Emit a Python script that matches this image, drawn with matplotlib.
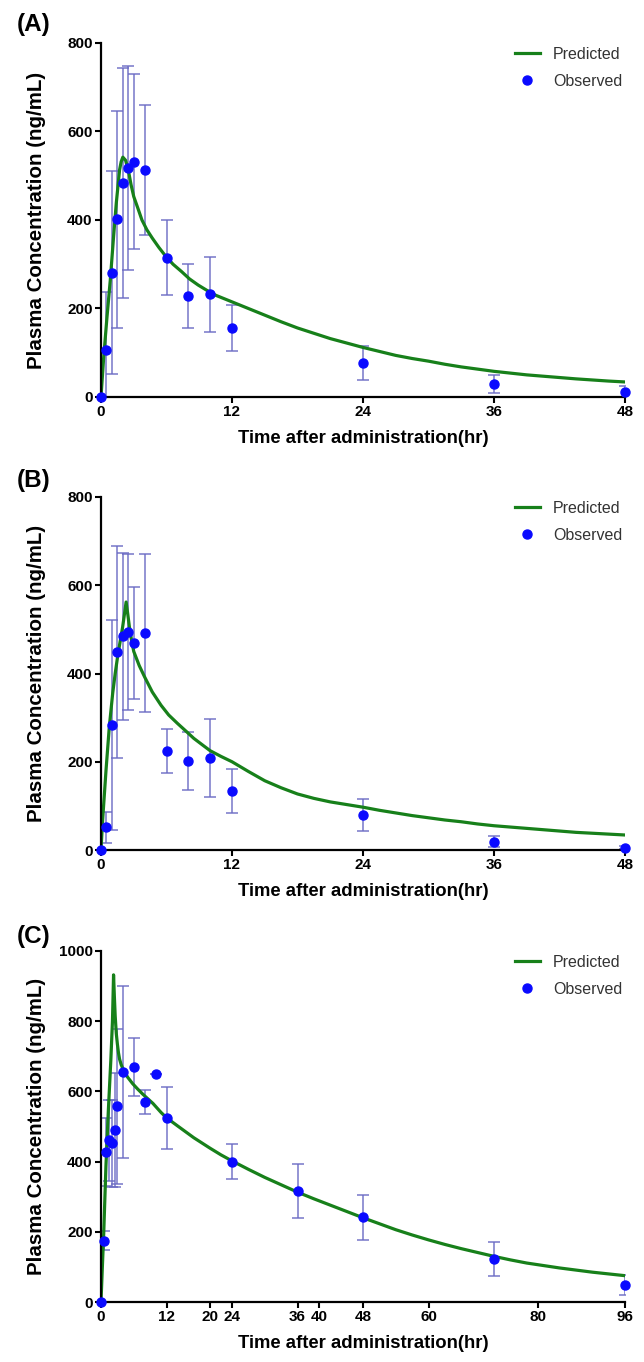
import numpy as np
import matplotlib
matplotlib.use('Agg')
import matplotlib.pyplot as plt
from matplotlib.lines import Line2D

plt.rcParams['font.family'] = ['Liberation Sans', 'DejaVu Sans']

# panel A
a_obs_t = [0, 0.5, 1, 1.5, 2, 2.5, 3, 4, 6, 8, 10, 12, 24, 36, 48]
a_obs_c = [0, 107, 281, 402, 483, 518, 532, 512, 315, 229, 232, 157, 77, 29, 12]
a_obs_sd = [0, 130, 230, 245, 260, 230, 198, 147, 84, 72, 84, 52, 39, 20, 12]
a_pred_t = [0, 0.25, 0.55, 0.85, 1.15, 1.4, 1.7, 1.85, 2.0, 2.25, 2.5, 2.75, 3.0, 3.4, 3.75,
            4.2, 4.7, 5.3, 5.9, 6.6, 7.4, 8.1, 8.9, 9.7, 10.5, 11.3, 12, 13.5, 15, 16.5,
            18, 19.5, 21, 22.5, 24, 25.5, 27, 28.5, 30, 31.5, 33, 34.5, 36, 37.5, 39,
            40.5, 42, 43.5, 45, 46.5, 48]
a_pred_c = [0, 91, 181, 264, 362, 438, 513, 532, 542, 535, 513, 480, 453, 425, 400,
            378, 359, 338, 319, 300, 283, 267, 253, 241, 230, 222, 215, 200, 185, 170,
            156, 144, 132, 122, 112, 103, 94, 87, 81, 74, 68, 63, 58, 54, 50,
            47, 44, 41, 38.5, 36, 34]

# panel B
b_obs_t = [0, 0.5, 1, 1.5, 2, 2.5, 3, 4, 6, 8, 10, 12, 24, 36, 48]
b_obs_c = [0, 51, 283, 449, 484, 494, 469, 491, 225, 201, 209, 134, 79, 19, 5]
b_obs_sd = [0, 35, 238, 240, 190, 176, 126, 179, 50, 66, 88, 50, 37, 12, 3]
b_pred_t = [0, 0.15, 0.46, 0.76, 1.07, 1.3, 1.52, 1.75, 1.98, 2.15, 2.3, 2.45, 2.6, 2.8,
            3.0, 3.5, 4.0, 4.7, 5.5, 6.2, 7.0, 7.8, 8.5, 9.3, 10, 11, 12, 13.5, 15, 16.5,
            18, 19.5, 21, 22.5, 24, 25.5, 27, 28.5, 30, 31.5, 33, 34.5, 36, 37.5, 39,
            40.5, 42, 43.5, 45, 46.5, 48]
b_pred_c = [0, 68, 181, 279, 355, 400, 438, 472, 505, 535, 562, 535, 506, 475,
            450, 418, 392, 358, 328, 306, 287, 269, 253, 238, 225, 212, 200, 178, 157, 141,
            127, 117, 109, 103, 97, 90, 84, 78, 73, 68, 64, 59, 55, 52, 49,
            46, 43, 40, 38, 36, 34]

# panel C
c_obs_t = [0, 0.5, 1, 1.5, 2, 2.5, 3, 4, 6, 8, 10, 12, 24, 36, 48, 72, 96]
c_obs_c = [0, 175, 428, 461, 452, 490, 558, 655, 670, 570, 649, 525, 400, 315, 241, 122, 49]
c_obs_sd = [0, 27, 97, 115, 123, 161, 221, 245, 82, 34, 0, 88, 49, 77, 64, 48, 28]
c_pred_t = [0, 0.25, 0.5, 0.9, 1.35, 1.8, 2.1, 2.3, 2.45, 2.6, 2.8, 3.0, 3.2, 3.4, 3.7,
            4.0, 4.9, 5.8, 6.7, 7.6, 8.5, 9.5, 11, 12, 14, 17, 20, 22, 24, 27, 30, 33,
            36, 39, 42, 45, 48, 51, 54, 57, 60, 63, 66, 69, 72, 75, 78, 81, 84, 87, 90, 93, 96]
c_pred_c = [0, 100, 196, 386, 547, 689, 800, 932, 870, 815, 765, 735, 710, 692, 676,
            665, 640, 622, 607, 593, 580, 566, 540, 525, 502, 468, 438, 419, 402, 378, 355, 334,
            313, 294, 276, 258, 240, 223, 206, 191, 177, 164, 152, 141, 130, 120, 111, 104, 97, 91, 85, 80, 75]

panels = [
    ('(A)', a_obs_t, a_obs_c, a_obs_sd, a_pred_t, a_pred_c, 48, [0, 12, 24, 36, 48], 800, [0, 200, 400, 600, 800]),
    ('(B)', b_obs_t, b_obs_c, b_obs_sd, b_pred_t, b_pred_c, 48, [0, 12, 24, 36, 48], 800, [0, 200, 400, 600, 800]),
    ('(C)', c_obs_t, c_obs_c, c_obs_sd, c_pred_t, c_pred_c, 96, [0, 12, 20, 24, 36, 40, 48, 60, 80, 96],
     1000, [0, 200, 400, 600, 800, 1000]),
]

W, H = 644, 1362
fig = plt.figure(figsize=(W / 100, H / 100), dpi=100)

boxes = [(43, 397, 18), (497, 850, 16), (951, 1302, 14)]
green = '#17801a'
blue = '#0a0aff'
errcol = '#6b6bc4'

for (label, ot, oc, osd, pt, pc, xmax, xticks, ymax, yticks), (top, bot, lab_off) in zip(panels, boxes):
    ax = fig.add_axes([101 / W, 1 - bot / H, 524 / W, (bot - top) / H])
    ax.plot(pt, pc, color=green, lw=2.3, zorder=2)
    oc_arr = np.array(oc, dtype=float)
    sd_arr = np.array(osd, dtype=float)
    lower = np.minimum(sd_arr, oc_arr)
    ax.errorbar(ot, oc, yerr=[lower, sd_arr], fmt='none', ecolor=errcol, elinewidth=1.2,
                capsize=4, capthick=1.2, alpha=0.85, zorder=1)
    ax.plot(ot, oc, 'o', color=blue, ms=6.5, clip_on=False, zorder=3)

    ax.set_xlim(0, xmax)
    ax.set_ylim(0, ymax)
    ax.set_xticks(xticks)
    ax.set_yticks(yticks)
    for s in ['top', 'right']:
        ax.spines[s].set_visible(False)
    for s in ['left', 'bottom']:
        ax.spines[s].set_linewidth(1.6)
    ax.tick_params(direction='out', length=4, width=1.5, labelsize=11, pad=2)
    for t in ax.get_xticklabels() + ax.get_yticklabels():
        t.set_fontweight('bold')
    ax.set_xlabel('Time after administration(hr)', fontsize=13.3, fontweight='bold', labelpad=8)
    ax.set_ylabel('Plasma Concentration (ng/mL)', fontsize=14.8, fontweight='bold')
    ax.yaxis.set_label_coords(-55 / 524, 0.5)

    handles = [Line2D([], [], color=green, lw=2.3),
               Line2D([], [], ls='none', marker='o', color=blue, ms=6.5)]
    ax.legend(handles, ['Predicted', 'Observed'], loc='upper right', frameon=False,
              fontsize=11.5, handlelength=1.6, labelcolor='#333333',
              bbox_to_anchor=(1.022, 1.03), labelspacing=0.75)

    fig.text(17 / W, 1 - (top - lab_off) / H, label, fontsize=17.5, fontweight='bold', va='center', ha='left')

fig.savefig('out.png', dpi=100)
